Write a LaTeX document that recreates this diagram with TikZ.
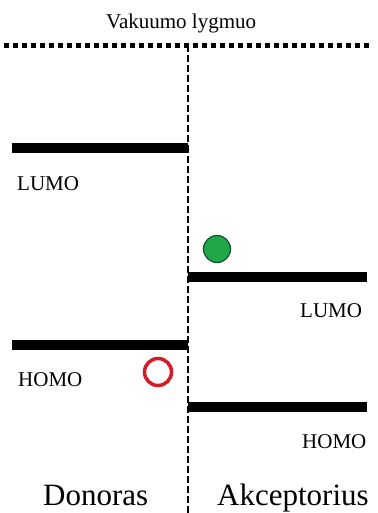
\documentclass[tikz,border=0pt]{standalone}
\usepackage{fontspec}
\setmainfont{Liberation Serif}
\definecolor{elgreen}{RGB}{32,168,72}
\definecolor{elgreendark}{RGB}{10,85,35}
\definecolor{holered}{RGB}{212,28,40}
\begin{document}
\begin{tikzpicture}[x=1pt, y=-1pt,
  level/.style={line width=10pt},
  lbl/.style={inner sep=0pt, anchor=base west, font=\fontsize{21}{24}\selectfont},
  side/.style={inner sep=0pt, anchor=base west, font=\fontsize{31}{36}\selectfont}]
\useasboundingbox (0,0) rectangle (377,513);

\node[lbl] (vac) at (106,29) {Vakuumo lygmuo};
\coordinate (vacL) at (4,45.5);
\coordinate (vacR) at (369,45.5);
\draw[line width=5.5pt, dash pattern=on 5pt off 4pt] (vacL) -- (vacR);
\coordinate (midT) at (188,45.5);
\coordinate (midB) at (188,513);
\draw[line width=2.8pt, dash pattern=on 7pt off 3pt] (midT) -- (midB);

% donoras
\coordinate (dL1) at (12,148);
\coordinate (dL2) at (188,148);
\draw[level] (dL1) -- (dL2);
\node[lbl] (dlumo) at (17,190) {LUMO};
\coordinate (dH1) at (12,345);
\coordinate (dH2) at (188,345);
\draw[level] (dH1) -- (dH2);
\node[lbl] (dhomo) at (18,386) {HOMO};
\node[circle, draw=holered, line width=3.5pt, fill=white, minimum size=27pt, inner sep=0pt] (hole) at (158,372) {};

% akceptorius
\coordinate (aL1) at (188,277);
\coordinate (aL2) at (367,277);
\draw[level] (aL1) -- (aL2);
\node[lbl] (alumo) at (300,317) {LUMO};
\node[circle, draw=elgreendark, line width=1.2pt, fill=elgreen, minimum size=27pt, inner sep=0pt] (elec) at (217,249) {};
\coordinate (aH1) at (188,407);
\coordinate (aH2) at (367,407);
\draw[level] (aH1) -- (aH2);
\node[lbl] (ahomo) at (302,448) {HOMO};

\node[side] (don) at (43,505) {Donoras};
\node[side] (akc) at (217,505) {Akceptorius};
\end{tikzpicture}
\end{document}
